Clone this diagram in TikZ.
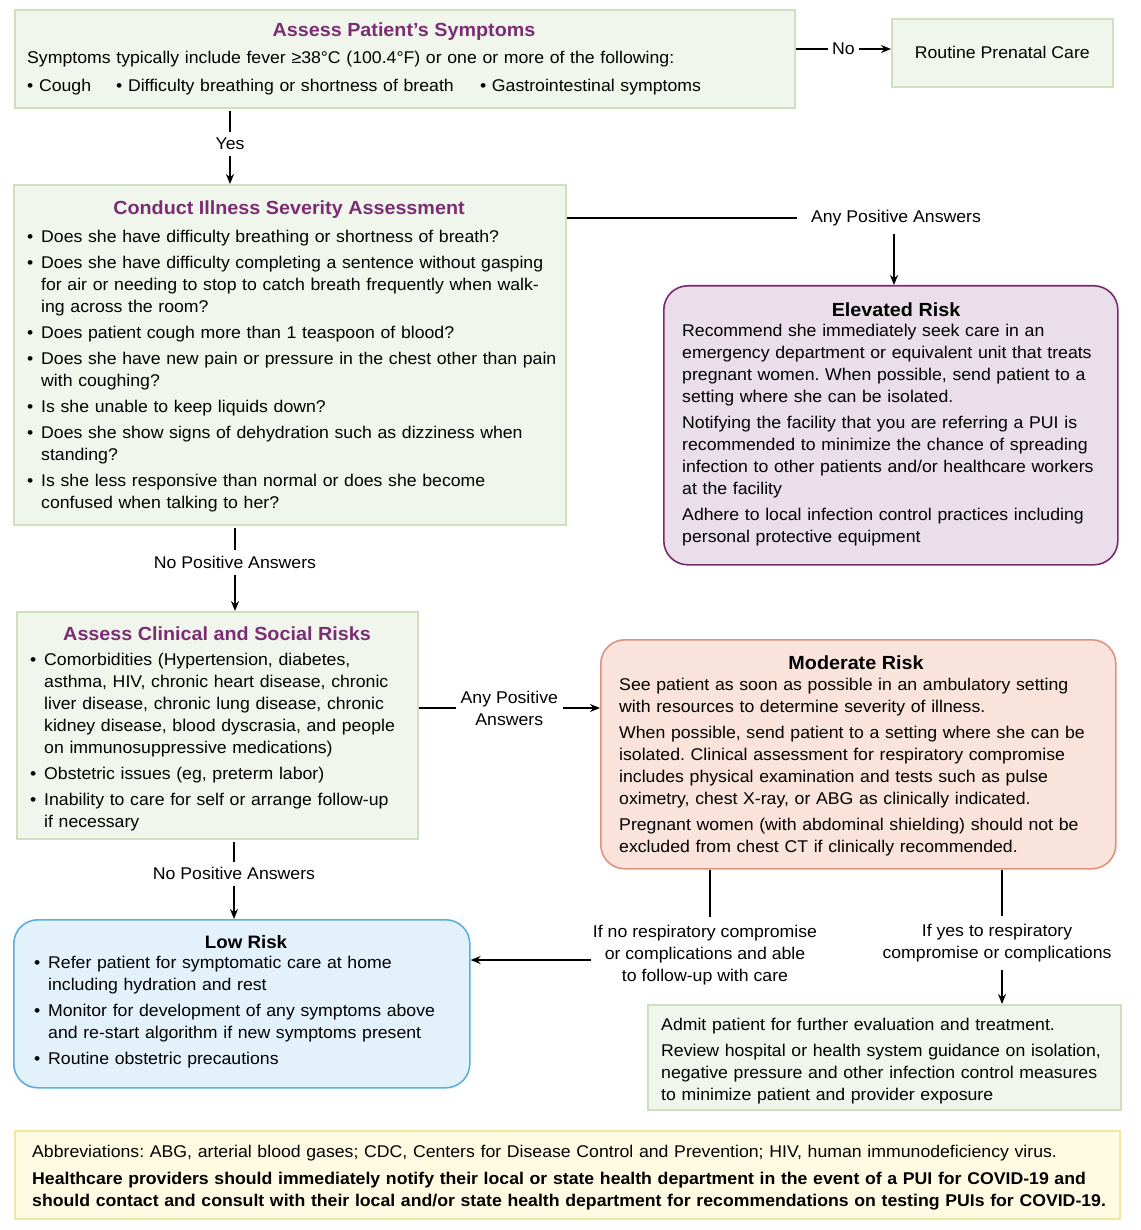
\documentclass[tikz,border=0pt]{standalone}
\usepackage{fontspec}
\setmainfont{Liberation Sans}[FakeStretch=1.04]
\usetikzlibrary{arrows.meta,calc}
\definecolor{gfill}{HTML}{F1F6EC}
\definecolor{gdraw}{HTML}{CFE0C0}
\definecolor{tpurple}{HTML}{7B2D74}
\definecolor{edraw}{HTML}{7B2A70}
\definecolor{efill}{HTML}{E9DEEA}
\definecolor{mdraw}{HTML}{E0917F}
\definecolor{mfill}{HTML}{F9E3DA}
\definecolor{ldraw}{HTML}{5BAEDD}
\definecolor{lfill}{HTML}{E3F1FA}
\definecolor{ydraw}{HTML}{F1E7A3}
\definecolor{yfill}{HTML}{FFFBE3}
\frenchspacing
\newcommand\body{\fontsize{17}{22}\selectfont\frenchspacing}
\newcommand\psk{\setlength{\parskip}{4pt}\setlength{\parindent}{0pt}}
\newcommand\bitem[2]{\hangindent=#1\hangafter=1\noindent\strut\makebox[#1][l]{•}#2\par}
\begin{document}
\begin{tikzpicture}[x=1pt,y=-1pt,
  box/.style={draw, line width=1.6pt, inner sep=0pt, anchor=north west},
  gbox/.style={box, draw=gdraw, fill=gfill},
  rbox/.style={box, rounded corners=24pt},
  txt/.style={anchor=north west, inner sep=0pt, align=left, text width=#1, font=\body},
  ttl/.style={font=\fontsize{19}{22}\selectfont\bfseries, text=tpurple, inner sep=0pt},
  rttl/.style={font=\fontsize{19}{22}\selectfont\bfseries, inner sep=0pt},
  lbl/.style={fill=white, font=\body, inner xsep=4pt, inner ysep=6pt},
  lbl0/.style={font=\body, inner xsep=2pt, inner ysep=8pt},
  ln/.style={line width=1.6pt},
  arr/.style={line width=1.6pt, -{Stealth[length=10pt,width=8pt]}}
]
\useasboundingbox (0,0) rectangle (1140,1230);

% boxes
\node[gbox, minimum width=780pt, minimum height=98pt] (sym) at (14,9) {};
\node[gbox, minimum width=221pt, minimum height=68pt, font=\body, anchor=north west] (routine) at (891,18) {Routine Prenatal Care};
\node[gbox, minimum width=552pt, minimum height=340pt] (cond) at (13,184) {};
\node[rbox, draw=edraw, fill=efill, minimum width=454pt, minimum height=279pt] (elev) at (663,285) {};
\node[gbox, minimum width=401pt, minimum height=227pt] (clin) at (16,611) {};
\node[rbox, draw=mdraw, fill=mfill, minimum width=515pt, minimum height=229pt] (mod) at (600,639) {};
\node[rbox, draw=ldraw, fill=lfill, minimum width=456pt, minimum height=168pt] (low) at (13,919) {};
\node[gbox, minimum width=473pt, minimum height=105pt] (admit) at (647,1004) {};
\node[box, draw=ydraw, fill=yfill, minimum width=1105pt, minimum height=88pt] (foot) at (14,1130) {};

% titles
\node[ttl] (symttl) at (404,32) {Assess Patient’s Symptoms};
\node[ttl] (condttl) at (289,210) {Conduct Illness Severity Assessment};
\node[rttl] (elevttl) at (896,310) {Elevated Risk};
\node[ttl] (clinttl) at (217,634) {Assess Clinical and Social Risks};
\node[rttl] (modttl) at (856,663) {Moderate Risk};
\node[rttl, font=\fontsize{18}{22}\selectfont\bfseries] (lowttl) at (246,942) {Low Risk};

% texts
\node[txt=770pt] (symtxt) at (27,48) {\strut Symptoms typically include fever ≥38°C (100.4°F) or one or more of the following:\\[6pt]
\makebox[89pt][l]{• Cough}\makebox[364pt][l]{• Difficulty breathing or shortness of breath}• Gastrointestinal symptoms};

\node[txt=545pt] (condtxt) at (27,227) {\psk
\bitem{14pt}{Does she have difficulty breathing or shortness of breath?}
\bitem{14pt}{Does she have difficulty completing a sentence without gasping\newline for air or needing to stop to catch breath frequently when walk-\newline ing across the room?}
\bitem{14pt}{Does patient cough more than 1 teaspoon of blood?}
\bitem{14pt}{Does she have new pain or pressure in the chest other than pain\newline with coughing?}
\bitem{14pt}{Is she unable to keep liquids down?}
\bitem{14pt}{Does she show signs of dehydration such as dizziness when\newline standing?}
\bitem{14pt}{Is she less responsive than normal or does she become\newline confused when talking to her?}};

\node[txt=440pt] (elevtxt) at (682,321) {\psk
\strut Recommend she immediately seek care in an\newline emergency department or equivalent unit that treats\newline pregnant women. When possible, send patient to a\newline setting where she can be isolated.\par
\strut Notifying the facility that you are referring a PUI is\newline recommended to minimize the chance of spreading\newline infection to other patients and/or healthcare workers\newline at the facility\par
\strut Adhere to local infection control practices including\newline personal protective equipment\par};

\node[txt=395pt] (clintxt) at (30,650) {\psk
\bitem{14pt}{Comorbidities (Hypertension, diabetes,\newline asthma, HIV, chronic heart disease, chronic\newline liver disease, chronic lung disease, chronic\newline kidney disease, blood dyscrasia, and people\newline on immunosuppressive medications)}
\bitem{14pt}{Obstetric issues (eg, preterm labor)}
\bitem{14pt}{Inability to care for self or arrange follow-up\newline if necessary}};

\node[txt=500pt] (modtxt) at (619,675) {\psk
\strut See patient as soon as possible in an ambulatory setting\newline with resources to determine severity of illness.\par
\strut When possible, send patient to a setting where she can be\newline isolated. Clinical assessment for respiratory compromise\newline includes physical examination and tests such as pulse\newline oximetry, chest X-ray, or ABG as clinically indicated.\par
\strut Pregnant women (with abdominal shielding) should not be\newline excluded from chest CT if clinically recommended.\par};

\node[txt=430pt] (lowtxt) at (34,953) {\psk
\bitem{14pt}{Refer patient for symptomatic care at home\newline including hydration and rest}
\bitem{14pt}{Monitor for development of any symptoms above\newline and re-start algorithm if new symptoms present}
\bitem{14pt}{Routine obstetric precautions}};

\node[txt=465pt] (admittxt) at (661,1015) {\psk
\strut Admit patient for further evaluation and treatment.\par
\strut Review hospital or health system guidance on isolation,\newline negative pressure and other infection control measures\newline to minimize patient and provider exposure\par};

\node[txt=1100pt] (foottxt) at (32,1142) {\setlength{\parskip}{5pt}\setlength{\parindent}{0pt}%
\strut Abbreviations: ABG, arterial blood gases; CDC, Centers for Disease Control and Prevention; HIV, human immunodeficiency virus.\par
\strut\textbf{Healthcare providers should immediately notify their local or state health department in the event of a PUI for COVID-19 and\newline should contact and consult with their local and/or state health department for recommendations on testing PUIs for COVID-19.}\par};

% connectors
\coordinate (noy) at (0,49);
\draw[arr] (sym.east |- noy) -- node[lbl]{No} (routine.west |- noy);

\coordinate (yesx) at (230,0);
\draw[arr, shorten <=2pt] (sym.south -| yesx) -- node[lbl, pos=0.47]{Yes} (cond.north -| yesx);

\coordinate (apa) at (894,218);
\node[font=\body, inner xsep=14pt, inner ysep=8pt] (apalbl) at (896,218) {Any Positive Answers};
\draw[ln] (cond.east |- apalbl) -- (apalbl.west);
\draw[arr] (apalbl.south -| apa) -- (elev.north -| apa);

\coordinate (npx) at (235,0);
\draw[arr, shorten <=2pt] (cond.south -| npx) -- node[lbl, pos=0.43]{No Positive Answers} (clin.north -| npx);

\coordinate (apy) at (0,708);
\draw[arr] (clin.east |- apy) -- node[lbl, align=center, inner xsep=5pt]{Any Positive\\Answers} (mod.west |- apy);

\coordinate (np2x) at (234,0);
\draw[arr, shorten <=2pt] (clin.south -| np2x) -- node[lbl, pos=0.43]{No Positive Answers} (low.north -| np2x);

\node[lbl0, align=center] (nolbl) at (705,955) {If no respiratory compromise\\or complications and able\\to follow-up with care};
\coordinate (nox) at (710,0);
\coordinate (noarr) at ([yshift=-5pt]nolbl.west);
\draw[ln] (mod.south -| nox) -- (nolbl.north -| nox);
\draw[arr] (noarr) -- (low.east |- noarr);

\node[lbl0, align=center] (yeslbl) at (997,943) {If yes to respiratory\\compromise or complications};
\coordinate (yx) at (1002,0);
\draw[ln] (mod.south -| yx) -- (yeslbl.north -| yx);
\draw[arr] (yeslbl.south -| yx) -- (admit.north -| yx);
\end{tikzpicture}
\end{document}
